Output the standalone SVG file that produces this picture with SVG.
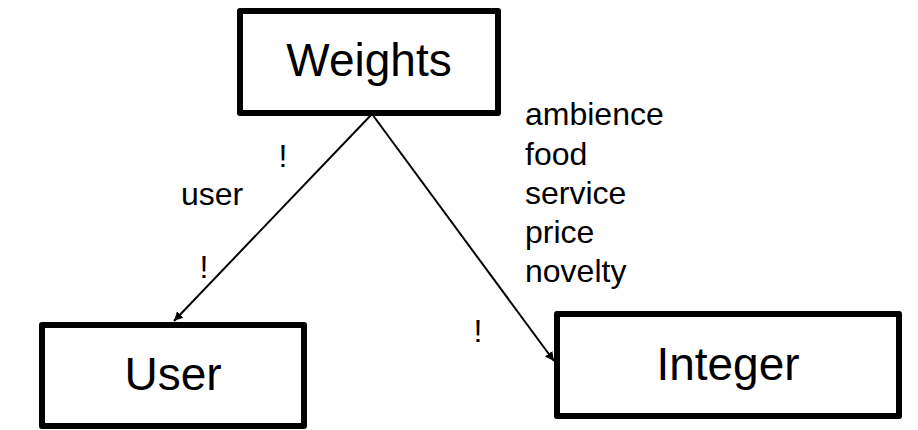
<svg xmlns="http://www.w3.org/2000/svg" width="918" height="430" viewBox="0 0 918 430">
<defs>
<style>
.box{fill:#fff;stroke:#000;stroke-width:6;stroke-linejoin:round}
.nt{font-family:"Liberation Sans",Arial,sans-serif;font-size:46px;text-anchor:middle;fill:#000}
.lb{font-family:"Liberation Sans",Arial,sans-serif;font-size:32px;fill:#000}
.edge{stroke:#000;stroke-width:2;fill:none}
</style>
<marker id="arr" viewBox="0 0 10 10" refX="10" refY="5" markerWidth="9" markerHeight="9" markerUnits="userSpaceOnUse" orient="auto">
<path d="M0,0 L10,5 L0,10 z" fill="#000"/>
</marker>
</defs>
<rect width="918" height="430" fill="#fff"/>
<g id="connectors">
<line class="edge" x1="372" y1="114" x2="174" y2="321" marker-end="url(#arr)"/>
<line class="edge" x1="372" y1="114" x2="554" y2="361" marker-end="url(#arr)"/>
<text class="lb" x="283" y="167" text-anchor="middle">!</text>
<text class="lb" x="181" y="205">user</text>
<text class="lb" x="204" y="278" text-anchor="middle">!</text>
<text class="lb" x="478" y="342" text-anchor="middle">!</text>
<text class="lb" x="525" y="125">ambience</text>
<text class="lb" x="525" y="165">food</text>
<text class="lb" x="525" y="204">service</text>
<text class="lb" x="525" y="243">price</text>
<text class="lb" x="525" y="282">novelty</text>
</g>
<g id="weights">
<rect class="box" x="240" y="11" width="258" height="102"/>
<text class="nt" x="369" y="76">Weights</text>
</g>
<g id="user">
<rect class="box" x="42" y="325" width="262" height="101"/>
<text class="nt" x="173" y="390">User</text>
</g>
<g id="integer">
<rect class="box" x="557" y="314" width="342" height="102"/>
<text class="nt" x="728" y="380">Integer</text>
</g>
</svg>
